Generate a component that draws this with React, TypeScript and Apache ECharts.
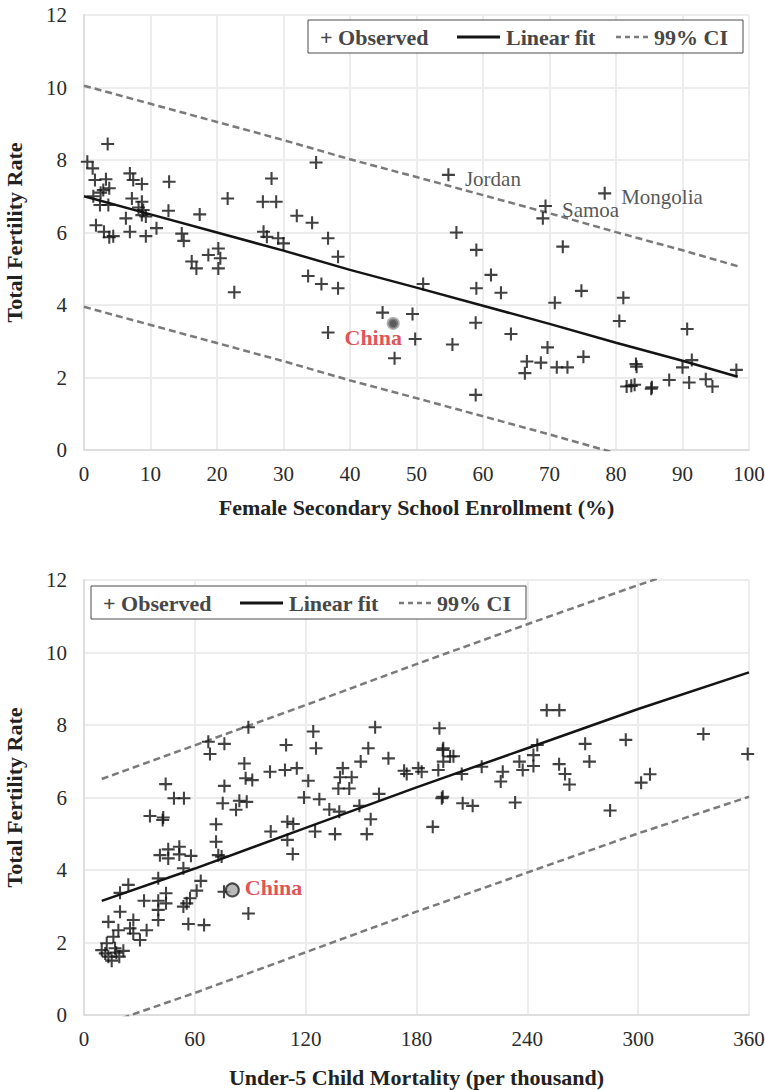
import React, { useEffect, useRef } from "react";
import * as echarts from "echarts";

const FONT = "Liberation Serif";

// ---------- Top chart: Female Secondary School Enrollment ----------
const topObserved: number[][] = [
  [3.56, 8.44], [0.5, 7.95], [1.3, 7.77], [1.65, 7.45], [3.3, 7.47], [3.8, 7.22], [2.9, 7.17], [2.5, 7.1],
  [1.4, 7.0], [2.4, 6.76], [3.66, 6.76], [6.9, 7.63], [7.4, 7.45], [8.7, 7.34], [12.8, 7.4], [7.2, 6.94],
  [8.7, 6.85], [8.2, 6.69], [8.9, 6.62], [8.7, 6.48], [9.3, 6.44], [6.3, 6.39], [12.7, 6.6], [17.4, 6.5],
  [1.8, 6.2], [3.0, 6.02], [3.8, 5.87], [4.4, 5.9], [6.9, 6.02], [9.3, 5.9], [10.9, 6.12], [14.7, 5.97],
  [15.0, 5.77], [16.2, 5.2], [16.9, 5.01], [18.7, 5.38], [20.2, 5.56], [20.5, 5.29], [20.2, 5.01], [22.6, 4.35],
  [21.6, 6.94], [26.9, 6.85], [28.9, 6.85], [28.2, 7.49], [27.0, 6.02], [27.5, 5.88], [29.2, 5.84],
  [34.9, 7.93], [32.0, 6.46], [34.3, 6.27], [36.7, 5.84], [30.0, 5.7], [38.2, 5.33], [33.7, 4.8],
  [35.7, 4.58], [38.2, 4.46], [56.0, 6.0], [59.0, 5.52], [51.0, 4.58], [59.0, 4.46], [44.9, 3.79], [49.4, 3.75],
  [36.7, 3.24], [49.8, 3.06], [55.4, 2.91], [46.7, 2.53], [58.9, 3.51], [58.9, 1.52],
  [69.0, 6.39], [72.0, 5.61], [61.2, 4.83], [62.7, 4.34], [74.8, 4.39], [81.1, 4.2], [70.8, 4.06],
  [80.5, 3.56], [64.2, 3.2], [90.7, 3.34], [69.7, 2.83], [66.6, 2.44], [66.3, 2.12], [68.7, 2.41], [71.1, 2.28],
  [72.7, 2.28], [75.1, 2.57], [83.0, 2.37], [83.1, 2.3], [91.4, 2.48], [90.0, 2.28], [98.1, 2.21], [81.6, 1.75],
  [82.3, 1.77], [82.8, 1.8], [85.4, 1.73], [85.3, 1.69], [88.0, 1.93], [91.0, 1.86], [93.5, 1.95], [94.5, 1.75],
];
const topAnnotated: [string, number, number][] = [
  ["Jordan", 54.8, 7.59],
  ["Samoa", 69.4, 6.73],
  ["Mongolia", 78.3, 7.08],
];
const topChina: number[] = [46.5, 3.49];
const topFitX: number[] = [0, 10, 20, 30, 40, 50, 60, 70, 80, 90, 98.3];
const topFitY: number[] = [7.0, 6.5, 6.0, 5.5, 4.97, 4.48, 3.98, 3.48, 2.96, 2.46, 2.02];
const topUpperY: number[] = [10.05, 9.55, 9.05, 8.55, 8.02, 7.53, 7.03, 6.53, 6.01, 5.51, 5.07];
const topLowerY: number[] = [3.95, 3.45, 2.95, 2.45, 1.92, 1.43, 0.93, 0.43, -0.09, -0.59, -1.03];

// ---------- Bottom chart: Under-5 Child Mortality ----------
const botObserved: number[][] = [
  [89.0, 7.94], [67.3, 7.54], [76.0, 7.48], [68.2, 7.2], [86.8, 6.94], [100.7, 6.71], [87.5, 6.53], [91.1, 6.48],
  [76.0, 6.32], [44.2, 6.37], [48.7, 5.98], [54.1, 5.98], [75.1, 5.84], [84.1, 5.91], [88.1, 5.88], [82.3, 5.66],
  [35.7, 5.49], [42.9, 5.45], [42.6, 5.38], [71.5, 5.26], [101.1, 5.06], [71.5, 4.78], [41.1, 4.41], [45.6, 4.57],
  [45.6, 4.32], [51.6, 4.64], [51.6, 4.43], [57.9, 4.39], [72.7, 4.41], [74.5, 4.37], [53.8, 4.05], [40.2, 3.77],
  [63.2, 3.7], [61.0, 3.43], [24.0, 3.59], [19.5, 3.37], [44.4, 3.36], [44.4, 3.08], [40.2, 3.15], [40.2, 2.9],
  [40.2, 2.62], [32.5, 3.15], [57.4, 3.22], [55.6, 3.08], [53.8, 2.99], [19.5, 2.85], [13.2, 2.57], [26.7, 2.62],
  [56.5, 2.51], [65.0, 2.48], [89.0, 2.8], [75.8, 3.4], [18.6, 2.34], [15.9, 2.16], [12.3, 1.98], [9.6, 1.79],
  [16.8, 1.84], [21.3, 1.77], [24.9, 2.39], [26.7, 2.25], [30.3, 2.07], [33.9, 2.34], [13.2, 1.61], [19.1, 1.61],
  [15.0, 1.5], [17.5, 1.72], [11.5, 1.7],
  [157.6, 7.94], [192.4, 7.91], [124.1, 7.82], [125.6, 7.36], [109.4, 7.45], [153.9, 7.36], [194.5, 7.36],
  [194.2, 7.31], [198.2, 7.13], [200, 7.14], [194.5, 6.99], [149.8, 6.99], [164.8, 7.08], [140.1, 6.81],
  [108.8, 6.76], [115.2, 6.81], [173.3, 6.74], [174.7, 6.65], [181, 6.81], [182.8, 6.71], [191.8, 6.76],
  [204.5, 6.65], [138.6, 6.56], [144.9, 6.56], [121.4, 6.46], [137.7, 6.25], [143.6, 6.25], [159.7, 6.1],
  [119.1, 6.0], [127.4, 5.95], [194.2, 6.02], [193.7, 5.98], [132.8, 5.67], [138.2, 5.61], [149.1, 5.77],
  [110.1, 5.33], [113.3, 5.27], [155.2, 5.4], [125.1, 5.06], [135.9, 4.99], [153.1, 4.99], [188.8, 5.19],
  [205.0, 5.84], [210.4, 5.77], [110.1, 4.83], [113.0, 4.44],
  [250.5, 8.41], [257.3, 8.41], [245.4, 7.45], [243.3, 7.17], [235.7, 6.99], [237.5, 6.76], [226.7, 6.71],
  [225.6, 6.44], [243.3, 6.87], [233.4, 5.86], [271.3, 7.48], [273.6, 6.99], [257.2, 6.92], [260.4, 6.65],
  [262.8, 6.36], [293.3, 7.59], [301.6, 6.41], [306.4, 6.64], [284.8, 5.64], [335.3, 7.75], [359.3, 7.2],
  [215.3, 6.85],
];
const botChina: number[] = [80.3, 3.45];
const botFitX: number[] = [9.6, 60, 120, 180, 240, 300, 360];
const botFitY: number[] = [3.15, 4.04, 5.16, 6.28, 7.36, 8.44, 9.45];
const botUpperY: number[] = [6.51, 7.44, 8.55, 9.68, 10.78, 11.86, 12.87];
const botLowerY: number[] = [-0.28, 0.61, 1.73, 2.85, 3.93, 5.01, 6.02];

const yTicksMax = 12;
const yTickStep = 2;

const PLUS = "path://M4.2,0H5.8V4.2H10V5.8H5.8V10H4.2V5.8H0V4.2H4.2Z";

const zip = (xs: number[], ys: number[]) => xs.map((x, i) => [x, ys[i]]);

function makeAxes(idx: number, xMax: number, xStep: number, xName: string, xGap: number) {
  const axisLine = { show: true, lineStyle: { color: "#dedede", width: 2 } };
  const splitLine = { show: true, lineStyle: { color: "#ececec", width: 2 } };
  const xAxis = {
    type: "value",
    gridIndex: idx,
    min: 0,
    max: xMax,
    interval: xStep,
    axisLine,
    axisTick: { show: false },
    splitLine,
    axisLabel: { margin: 13, fontSize: 21, color: "#2a2a2a", fontFamily: FONT },
    name: xName,
    nameLocation: "middle",
    nameGap: xGap,
    nameTextStyle: { fontSize: 22, fontWeight: "bold", color: "#222", fontFamily: FONT },
  };
  const yAxis = {
    type: "value",
    gridIndex: idx,
    min: 0,
    max: yTicksMax,
    interval: yTickStep,
    axisLine,
    axisTick: { show: false },
    splitLine,
    axisLabel: { margin: 17, fontSize: 21, color: "#2a2a2a", fontFamily: FONT },
    name: "Total Fertility Rate",
    nameLocation: "middle",
    nameGap: 59,
    nameTextStyle: { fontSize: 22, fontWeight: "bold", color: "#222", fontFamily: FONT },
  };
  return { xAxis, yAxis };
}

function lineSeries(idx: number, name: string, data: number[][], dashed: boolean) {
  return {
    type: "line",
    name,
    xAxisIndex: idx,
    yAxisIndex: idx,
    data,
    symbol: "none",
    clip: true,
    z: 3,
    lineStyle: dashed
      ? { color: "#7a7a7a", width: 2.5, type: [7, 4] }
      : { color: "#141414", width: 2.5 },
  };
}

function legendGraphic(x: number, y: number) {
  const txt = (text: string, tx: number) => ({
    type: "text",
    z: 20,
    style: {
      text,
      x: tx,
      y: y + 17,
      fill: "#474747",
      fontSize: 22,
      fontWeight: "bold",
      fontFamily: FONT,
      verticalAlign: "middle",
    },
  });
  return [
    {
      type: "rect",
      z: 19,
      shape: { x, y, width: 435, height: 33 },
      style: { fill: "#fff", stroke: "#4a4a4a", lineWidth: 1 },
    },
    txt("+ Observed", x + 12),
    {
      type: "line",
      z: 20,
      shape: { x1: x + 149, y1: y + 17, x2: x + 192, y2: y + 17 },
      style: { stroke: "#141414", lineWidth: 3 },
    },
    txt("Linear fit", x + 198),
    {
      type: "line",
      z: 20,
      shape: { x1: x + 308, y1: y + 17, x2: x + 341, y2: y + 17 },
      style: { stroke: "#7a7a7a", lineWidth: 2.5, lineDash: [5, 4] },
    },
    txt("99% CI", x + 346),
  ];
}

export default function App() {
  const ref = useRef<HTMLDivElement>(null);
  useEffect(() => {
    if (!ref.current) return;
    const chart = echarts.init(ref.current, undefined, { renderer: "svg" });
    const a0 = makeAxes(0, 100, 10, "Female Secondary School Enrollment (%)", 46);
    const a1 = makeAxes(1, 360, 60, "Under-5 Child Mortality (per thousand)", 51);

    const topData: any[] = topObserved.map((p) => p);
    topAnnotated.forEach(([n, x, y]) => {
      topData.push({
        value: [x, y],
        label: {
          show: true,
          formatter: n,
          position: "right",
          distance: 10,
          offset: [0, 4],
          fontSize: 21,
          color: "#2a2a2a",
          fontFamily: FONT,
        },
      });
    });

    chart.setOption({
      animation: false,
      backgroundColor: "#fff",
      grid: [
        { left: 84, top: 15, width: 665, height: 435, containLabel: false, outerBoundsMode: "none" },
        { left: 84, top: 580, width: 665, height: 435, containLabel: false, outerBoundsMode: "none" },
      ],
      xAxis: [a0.xAxis, a1.xAxis],
      yAxis: [a0.yAxis, a1.yAxis],
      graphic: [...legendGraphic(308, 20), ...legendGraphic(91, 586)],
      series: [
        {
          type: "scatter",
          name: "Observed",
          xAxisIndex: 0,
          yAxisIndex: 0,
          symbol: PLUS,
          symbolSize: 13,
          itemStyle: { color: "#111" },
          data: topData,
          z: 4,
        },
        lineSeries(0, "Linear fit", zip(topFitX, topFitY), false),
        lineSeries(0, "99% CI upper", zip(topFitX, topUpperY), true),
        lineSeries(0, "99% CI lower", zip(topFitX, topLowerY), true),
        {
          type: "scatter",
          name: "China",
          xAxisIndex: 0,
          yAxisIndex: 0,
          symbol: "circle",
          symbolSize: 10,
          itemStyle: { color: "#333", borderColor: "rgba(140,140,140,0.85)", borderWidth: 3 },
          data: [topChina],
          z: 6,
          label: {
            show: true,
            formatter: "China",
            position: "inside",
            offset: [-20, 14],
            fontSize: 22,
            fontWeight: "bold",
            color: "#d7262b",
            fontFamily: FONT,
          },
        },
        {
          type: "scatter",
          name: "Observed",
          xAxisIndex: 1,
          yAxisIndex: 1,
          symbol: PLUS,
          symbolSize: 13,
          itemStyle: { color: "#111" },
          data: botObserved,
          z: 4,
        },
        lineSeries(1, "Linear fit", zip(botFitX, botFitY), false),
        lineSeries(1, "99% CI upper", zip(botFitX, botUpperY), true),
        lineSeries(1, "99% CI lower", zip(botFitX, botLowerY), true),
        {
          type: "scatter",
          name: "China",
          xAxisIndex: 1,
          yAxisIndex: 1,
          symbol: "circle",
          symbolSize: 13,
          itemStyle: { color: "#a9a9a9", borderColor: "#222", borderWidth: 2 },
          data: [botChina],
          z: 6,
          label: {
            show: true,
            formatter: "China",
            position: "right",
            distance: 5,
            offset: [0, -2],
            fontSize: 22,
            fontWeight: "bold",
            color: "#d7262b",
            fontFamily: FONT,
          },
        },
      ],
    });
    return () => chart.dispose();
  }, []);
  return (
    <div
      ref={ref}
      style={{ position: "absolute", left: 0, top: 0, width: 765, height: 1090, background: "#fff" }}
    />
  );
}
